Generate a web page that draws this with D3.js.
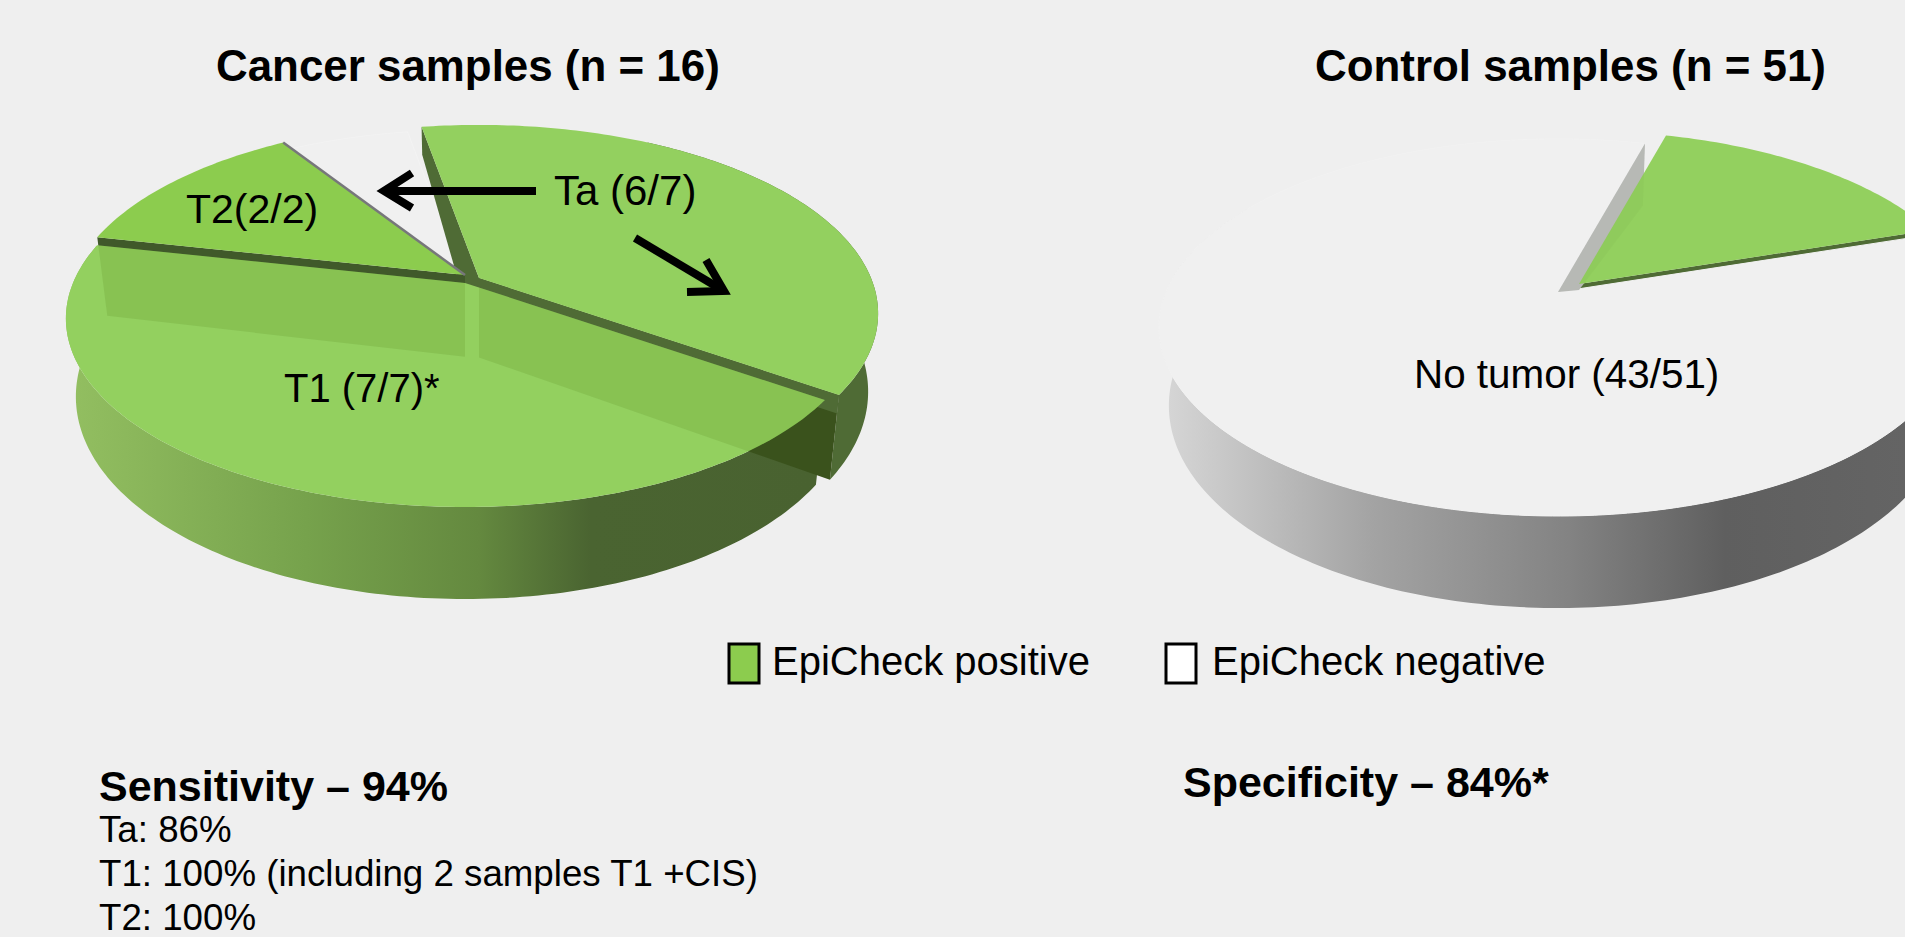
<!DOCTYPE html>
<html>
<head>
<meta charset="utf-8">
<title>EpiCheck</title>
<script src="https://cdnjs.cloudflare.com/ajax/libs/d3/7.8.5/d3.min.js"></script>
<style>
    body { margin: 0; background: #efefef; overflow: hidden; }
    text { font-family: "Liberation Sans", Arial, sans-serif; fill: #000; }
</style>
</head>
<body>
<div id="wrapper"></div>
<script>
//1. Data
const cancerCategories = ['Ta positive', 'T1 positive', 'T2 positive', 'Ta negative'];
const cancerValues = [6, 7, 2, 1];
const controlCategories = ['Control positive', 'No tumor negative'];
const controlValues = [8, 43];
const legendLabels = ['EpiCheck positive', 'EpiCheck negative'];
const legendColors = ['#8ccc4e', '#ffffff'];
const sensitivityLines = ['Ta: 86%', 'T1: 100% (including 2 samples T1 +CIS)', 'T2: 100%'];

//2. Dimensions
const dimensions = { width: 1905, height: 937 };
const pieShape = {
    radiusX: 392,      // half width of the top face
    radiusY: 181.9,
    perspective: 0.188,
    shrink: 0.025      // the lower rim is a little narrower
};
// where each slice's tip sits after being pulled out of the pie
const cancerTips = { 'Ta positive': [479, 278], 'T1 positive': [465, 283], 'T2 positive': [465, 275], 'Ta negative': [465, 283] };
const controlTips = { 'Control positive': [1579, 284], 'No tumor negative': [1558, 292] };

const rad = Math.PI / 180;
const depthScale = d3.scaleLinear().domain([-1, 0, 1]).range([62, 75, 92]);

const wrapper = d3.select('#wrapper')
    .append('svg')
    .attr('width', dimensions.width)
    .attr('height', dimensions.height);
wrapper.append('rect')
    .attr('width', dimensions.width)
    .attr('height', dimensions.height)
    .attr('fill', '#efefef');
const defs = wrapper.append('defs');

function addGradient(id, x1, x2, stops) {
    const gradient = defs.append('linearGradient')
        .attr('id', id)
        .attr('gradientUnits', 'userSpaceOnUse')
        .attr('x1', x1).attr('x2', x2)
        .attr('y1', 0).attr('y2', 0);
    stops.forEach(s => {
        gradient.append('stop')
            .attr('offset', s[0])
            .attr('stop-color', s[1]);
    });
}
addGradient('greenSide', 67, 815, [[0, '#93bf61'], [0.32, '#76a24c'], [0.55, '#64893f'], [0.7, '#4a6431'], [1, '#496230']]);
addGradient('greySide', 1157, 1905, [[0, '#d8d8d8'], [0.29, '#a3a3a3'], [0.55, '#838383'], [0.76, '#5f5f5f'], [1, '#646464']]);

//3. Projection of the tilted pie
function project(angle, tip, z = 0, reach = 1) {
    const u = Math.sin(angle * rad) * reach;
    const v = -Math.cos(angle * rad) * reach;
    const w = 1 - pieShape.perspective * v;
    const x = pieShape.radiusX * u / w;
    const y = pieShape.radiusY * v / w;
    return [tip[0] + x * (1 - pieShape.shrink * z), tip[1] + y + z * depthScale(v)];
}
const line = d3.line();
const arcAngles = (a, b) => d3.range(a, b, 1).concat(b);

const topPath = (d, tip) => line([project(0, tip, 0, 0)]
    .concat(arcAngles(d.from, d.to).map(a => project(a, tip)))) + 'Z';

// outer rim, built from small quads so the left and right silhouettes stay straight
const sidePath = (d, tip) => {
    const angles = arcAngles(Math.max(d.from, 30), Math.min(d.to, 300));
    return angles.slice(1).map((t, i) => line([
        project(angles[i], tip), project(t, tip),
        project(t, tip, 1), project(angles[i], tip, 1)
    ]) + 'Z').join('');
};

// flat cut face along one radius
const cutPath = (angle, tip, zOuter = 1, zInner = zOuter) => line([
    project(angle, tip), project(0, tip, 0, 0),
    project(0, tip, zInner, 0), project(angle, tip, zOuter)
]) + 'Z';

function layoutSlices(categories, values, startDeg) {
    const slices = d3.pie().sort(null)
        .startAngle(startDeg * rad)
        .endAngle((startDeg + 360) * rad)(values);
    const byName = {};
    slices.forEach((s, i) => {
        byName[categories[i]] = { from: s.startAngle / rad, to: s.endAngle / rad };
    });
    return byName;
}

//4. Cancer pie
const cancer = layoutSlices(cancerCategories, cancerValues, -10);
const ta = cancer['Ta positive'], t1 = cancer['T1 positive'], t2 = cancer['T2 positive'], taNeg = cancer['Ta negative'];
const taTip = cancerTips['Ta positive'], t1Tip = cancerTips['T1 positive'], t2Tip = cancerTips['T2 positive'], negTip = cancerTips['Ta negative'];
const cancerG = wrapper.append('g').attr('class', 'cancer');

function addPath(g, d, fill, extra) {
    const p = g.append('path').attr('d', d).attr('fill', fill);
    if (extra) extra(p);
    return p;
}

addPath(cancerG, topPath(taNeg, negTip), '#f0f0f0', p => p.attr('stroke', '#f3f3f3').attr('stroke-width', 1));
addPath(cancerG, cutPath(ta.from, taTip, 0.45, 1), '#4f6b35');
addPath(cancerG, sidePath(ta, taTip), '#4f6b35');
addPath(cancerG, cutPath(t2.from, t2Tip, 1, 1), '#40592a');
addPath(cancerG, topPath(t2, t2Tip), '#8ccc4e');
cancerG.append('path')
    .attr('d', line([project(t2.to, t2Tip), project(0, t2Tip, 0, 0)]))
    .attr('stroke', '#77777b')
    .attr('stroke-width', 2.5)
    .attr('fill', 'none');
addPath(cancerG, sidePath(t1, t1Tip), 'url(#greenSide)');
addPath(cancerG, cutPath(ta.to, taTip, 1, 1.06), '#3a521c');
addPath(cancerG, cutPath(ta.to, taTip, 0.22, 0.22), '#4f6b35');
addPath(cancerG, topPath(t1, t1Tip), '#93d05f');

defs.append('clipPath').attr('id', 't1Clip')
    .append('path').attr('d', topPath(t1, t1Tip));
const seeThrough = cancerG.append('g').attr('clip-path', 'url(#t1Clip)');
addPath(seeThrough, cutPath(t2.from, t2Tip, 1.09, 1.09), 'rgba(60,100,0,.13)');
addPath(seeThrough, cutPath(ta.to, taTip, 1, 1.06), 'rgba(60,100,0,.13)');

addPath(cancerG, topPath(ta, taTip), '#93d05f');

//5. Control pie
const control = layoutSlices(controlCategories, controlValues, 15.2);
const pos = control['Control positive'], neg = control['No tumor negative'];
const posTip = controlTips['Control positive'], ctlNegTip = controlTips['No tumor negative'];
const controlG = wrapper.append('g').attr('class', 'control');

// grey cut face of the big slice, it runs behind the green one up to the green tip
const greyFace = line([
    project(neg.to, ctlNegTip), project(0, ctlNegTip, 0, 0),
    project(0, posTip, 0.08, 0), project(neg.to, ctlNegTip, 1)
]) + 'Z';

addPath(controlG, sidePath(neg, ctlNegTip), 'url(#greySide)');
addPath(controlG, cutPath(pos.to, posTip, 1, 1), '#4f6b35');
addPath(controlG, topPath(neg, ctlNegTip), '#f0f0f0', p => p.attr('stroke', '#f2f2f2').attr('stroke-width', 1));
addPath(controlG, greyFace, '#bdbdbd');
addPath(controlG, topPath(pos, posTip), '#93d05f');
addPath(controlG, greyFace, 'rgba(70,110,40,.05)');

//6. Arrows
const arrows = [
    [[[536, 191], [384, 191]], [[412, 173], [384, 191], [412, 208]]],
    [[[635, 238], [724, 291]], [[706, 260], [724, 291], [687, 292]]]
];
const arrowG = wrapper.append('g').attr('class', 'arrows');
arrows.forEach(a => {
    a.forEach(points => {
        arrowG.append('path')
            .attr('d', line(points))
            .attr('fill', 'none')
            .attr('stroke', '#000')
            .attr('stroke-width', 8)
            .attr('stroke-linejoin', 'miter');
    });
});

//7. Text
const texts = [
    { t: 'Cancer samples (n = 16)', x: 216, y: 81, size: 43.9, weight: 'bold' },
    { t: 'Control samples (n = 51)', x: 1315, y: 81, size: 43.9, weight: 'bold' },
    { t: 'T2(2/2)', x: 186, y: 223, size: 41 },
    { t: 'Ta (6/7)', x: 554, y: 205, size: 42 },
    { t: 'T1 (7/7)*', x: 284, y: 402, size: 40 },
    { t: 'No tumor (43/51)', x: 1414, y: 388, size: 40.4 },
    { t: 'Sensitivity \u2013 94%', x: 99, y: 801, size: 43, weight: 'bold' },
    { t: 'Specificity \u2013 84%*', x: 1183, y: 797, size: 43, weight: 'bold' }
];
sensitivityLines.forEach((t, i) => {
    texts.push({ t: t, x: 99, y: 842 + i * 44, size: 36.7 });
});
wrapper.append('g').attr('class', 'labels')
    .selectAll('text')
    .data(texts)
    .enter()
    .append('text')
    .attr('x', d => d.x)
    .attr('y', d => d.y)
    .attr('font-size', d => d.size)
    .attr('font-weight', d => d.weight || 'normal')
    .text(d => d.t);

//8. Legend
const legendX = d3.scaleOrdinal().domain(legendLabels).range([729, 1166]);
const legend = wrapper.append('g').attr('class', 'legend')
    .selectAll('g')
    .data(legendLabels)
    .enter()
    .append('g')
    .attr('transform', d => `translate(${legendX(d)},644)`);
legend.append('rect')
    .attr('width', 30)
    .attr('height', 39)
    .attr('fill', (d, i) => legendColors[i])
    .attr('stroke', '#000')
    .attr('stroke-width', 3);
legend.append('text')
    .attr('x', (d, i) => i === 0 ? 43 : 46)
    .attr('y', 31)
    .attr('font-size', 40)
    .text(d => d);
</script>
</body>
</html>
